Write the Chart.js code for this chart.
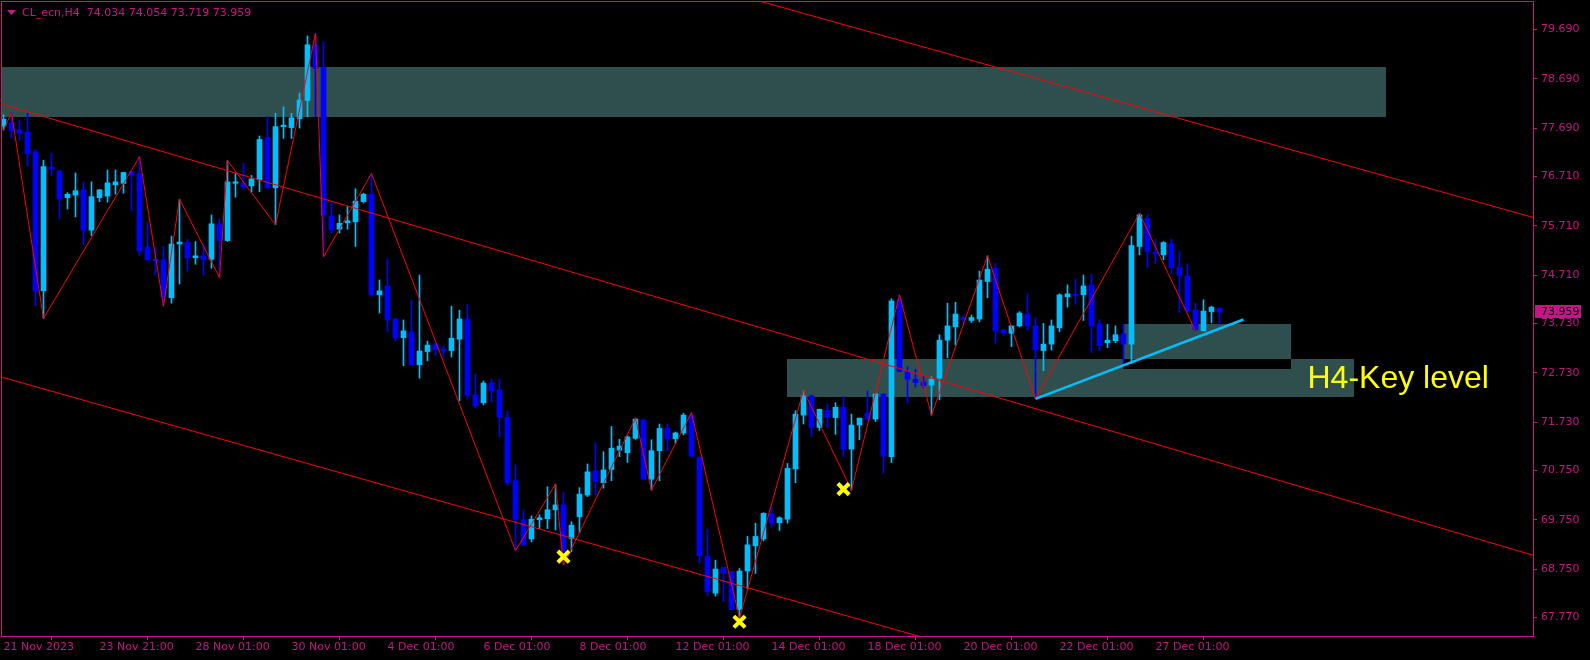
<!DOCTYPE html>
<html>
<head>
<meta charset="utf-8">
<script src="https://cdn.jsdelivr.net/npm/chart.js@4.4.1/dist/chart.umd.min.js"></script>
<style>
html, body { margin: 0; padding: 0; background: #000; }
canvas { display: block; }
</style>
</head>
<body>
<canvas id="chart" width="1590" height="660"></canvas>
<script>
// --- data ---
var symbolName = 'CL_ecn,H4';

var opens = [77.73,77.80,77.66,77.61,77.21,74.39,76.90,76.82,76.28,76.33,76.44,75.62,76.28,76.31,76.54,76.57,76.81,76.77,75.28,75.03,
  75.02,74.25,75.34,75.37,75.06,75.10,75.03,75.75,75.41,76.57,76.57,76.52,76.64,77.50,76.48,77.72,77.70,77.88,78.25,79.38,
  78.92,75.91,75.64,75.77,75.79,76.20,76.35,74.31,74.49,73.82,73.44,73.56,72.89,73.16,73.32,73.21,73.18,73.41,73.82,72.28,
  72.12,72.52,72.38,71.83,70.54,69.75,69.36,69.75,69.77,69.95,70.05,69.37,69.81,70.25,70.74,70.50,70.77,71.16,71.11,71.40,
  71.77,70.57,71.15,71.60,71.39,71.51,71.87,71.02,69.01,68.26,68.78,68.70,67.93,68.71,69.22,69.36,69.87,69.69,69.76,70.78,
  71.87,72.26,71.62,71.97,71.82,72.03,71.18,71.67,71.91,71.79,72.30,71.03,74.21,72.75,72.60,72.54,72.48,72.62,73.39,73.66,
  73.85,73.79,73.82,74.58,74.85,73.60,73.53,73.68,73.92,73.68,73.18,73.31,73.64,74.27,74.32,74.31,74.51,73.72,73.34,73.38,
  73.52,73.31,75.29,75.86,75.17,75.12,75.35,74.87,74.69,74.00,73.58,73.97,74.034];
var highs = [77.96,78.00,77.85,77.99,77.25,77.04,77.18,76.84,76.38,76.78,76.60,76.60,76.44,76.84,76.84,76.79,76.81,77.12,75.77,75.29,
  75.29,75.50,76.25,75.44,75.39,75.35,75.93,75.85,77.03,76.77,76.98,76.73,77.53,77.92,77.99,78.12,77.99,78.40,79.56,79.61,
  79.44,76.20,75.93,76.10,76.46,76.37,76.77,74.61,75.04,73.83,73.80,74.20,74.71,73.37,73.32,73.27,74.08,74.00,74.12,72.70,
  72.56,72.60,72.60,71.95,70.86,69.95,69.83,69.85,70.42,70.47,70.30,69.71,70.40,70.88,71.31,71.13,71.64,71.38,71.45,71.81,
  71.79,71.37,71.69,71.69,71.53,71.91,71.92,71.02,69.56,68.93,68.78,68.70,68.76,69.41,69.68,69.89,70.00,69.81,70.89,71.96,
  72.37,72.28,71.99,72.10,72.12,72.24,71.89,71.81,72.36,72.30,72.30,74.23,74.31,72.85,72.80,72.65,72.65,73.50,74.14,74.16,
  73.90,73.90,74.79,75.10,74.95,73.60,73.68,73.97,74.33,73.85,73.73,73.80,74.33,74.51,74.63,74.71,74.73,73.81,73.71,73.68,
  73.72,75.50,75.96,75.93,75.44,75.39,75.44,75.20,74.94,74.14,74.21,74.08,74.054];
var lows = [77.65,77.49,77.45,76.93,74.09,73.83,76.73,75.85,76.05,75.89,75.32,75.51,76.20,76.19,76.35,76.37,76.01,75.11,75.00,74.71,
  74.08,74.14,74.53,74.79,74.93,74.71,74.85,74.66,75.39,76.29,76.44,76.39,76.40,76.46,75.73,77.48,77.48,77.69,77.92,77.92,
  75.08,75.56,75.56,75.64,75.29,76.17,74.28,73.94,73.56,73.37,72.87,72.89,72.62,72.97,73.08,73.05,73.05,72.16,72.20,72.02,
  72.08,72.14,71.43,70.45,69.12,69.22,69.30,69.57,69.57,69.54,68.83,69.10,69.48,70.22,70.25,70.39,70.54,71.03,70.91,71.38,
  70.56,70.35,70.54,71.15,71.30,71.47,71.03,68.87,68.20,68.20,68.09,67.92,67.75,68.34,68.66,69.32,69.60,69.53,69.68,70.50,
  71.69,71.43,71.56,71.62,71.48,71.03,70.35,71.37,71.77,71.74,70.69,70.91,72.75,72.12,72.44,72.42,71.87,72.18,73.03,73.29,
  73.70,73.75,73.76,74.25,73.33,73.48,73.26,73.66,73.60,72.20,72.77,73.19,73.56,74.06,74.12,73.79,73.14,73.18,73.24,73.34,
  72.91,72.92,75.12,74.86,74.94,75.02,74.73,73.95,73.95,73.58,73.58,73.74,73.719];
var closes = [77.87,77.64,77.59,77.17,74.39,76.91,76.86,76.25,76.35,76.42,75.62,76.30,76.44,76.58,76.60,76.79,76.74,75.20,75.02,75.00,
  74.27,75.34,75.38,75.06,75.10,75.02,75.75,75.41,76.60,76.60,76.50,76.66,77.46,76.48,77.72,77.75,77.90,78.26,79.38,78.90,
  75.93,75.62,75.76,75.81,76.21,76.35,74.31,74.39,73.80,73.44,73.58,72.89,73.17,73.29,73.20,73.17,73.43,73.82,72.28,72.06,
  72.52,72.36,71.83,70.50,69.75,69.24,69.76,69.79,69.95,70.05,69.10,69.64,70.27,70.72,70.52,70.76,71.20,71.24,71.43,71.79,
  70.57,71.15,71.60,71.39,71.51,71.87,71.04,69.02,68.29,68.75,68.66,67.93,68.71,69.24,69.41,69.88,69.68,69.79,70.79,71.89,
  72.26,71.62,71.99,71.83,72.03,71.18,71.67,71.81,71.79,72.30,71.04,74.19,72.75,72.60,72.53,72.47,72.60,73.39,73.68,73.92,
  73.81,73.85,74.61,74.83,73.58,73.54,73.68,73.94,73.68,73.20,73.31,73.68,74.31,74.33,74.30,74.49,73.68,73.28,73.39,73.50,
  73.31,75.31,75.93,75.19,75.14,75.37,74.86,74.70,73.99,73.61,73.98,74.06,73.959];

// zigzag swing points (bar index, price)
var zigzagIdx = [0,1,5,17,20,22,27,28,34,39,40,46,64,69,70,79,81,86,92,100,106,112,116,123,129,142,149];
var zigzagPrice = [77.65,78.00,73.83,77.11,74.08,76.25,74.66,77.03,75.73,79.61,75.08,76.77,69.12,70.47,68.83,71.81,70.35,71.92,67.75,72.37,70.35,74.31,71.87,75.10,72.20,75.96,73.58];

// red trend lines: [startIdx, startPrice, endIdx, endPrice]
var trendTop = [90, 80.47, 191.2, 75.88];
var trendMid = [-0.1, 78.17, 191.2, 69.03];
var trendLow = [-0.19, 72.64, 191.2, 63.87];
// light blue support line
var supportLine = [129, 72.20, 155, 73.81];

// yellow cross marks
var markIdx = [70, 92, 105];
var markPrice = [69.00, 67.68, 70.37];

// supply / demand zones
var zoneStart = [-0.19, 98, 140];
var zoneEnd = [172.8, 168.8, 160.9];
var zoneHigh = [78.93, 73.01, 73.72];
var zoneLow = [77.92, 72.24, 72.81];
var zoneText = 'H4-Key level';
var zoneTextIdx = 163;
var zoneTextPrice = 72.415;

var priceTicks = [79.690, 78.690, 77.690, 76.710, 75.710, 74.710, 73.730, 72.730, 71.730, 70.750, 69.750, 68.750, 67.770];
var timeTickIdx = [0, 12, 24, 36, 48, 60, 72, 84, 96, 108, 120, 132, 144];
var timeLabels = ['21 Nov 2023', '23 Nov 21:00', '28 Nov 01:00', '30 Nov 01:00', '4 Dec 01:00', '6 Dec 01:00',
  '8 Dec 01:00', '12 Dec 01:00', '14 Dec 01:00', '18 Dec 01:00', '20 Dec 01:00', '22 Dec 01:00', '27 Dec 01:00'];

// --- styles ---
var axisColor = '#C71585';
var bullColor = '#00BFFF';
var bearColor = '#0000FF';
var zoneColor = '#2F4F4F';
var axisFont = { family: 'DejaVu Sans', size: 11 };

var last = opens.length - 1;
var bodies = opens.map((o, i) => ({ x: i, y: [o, closes[i]] }));
var wicks = opens.map((o, i) => ({ x: i, y: [lows[i], highs[i]] }));
var candleColor = c => (c.dataIndex === undefined || closes[c.dataIndex] >= opens[c.dataIndex]) ? bullColor : bearColor;
var seg = t => [{ x: t[0], y: t[1] }, { x: t[2], y: t[3] }];

var overlay = {
  id: 'overlay',
  beforeDatasetsDraw(chart) {
    var ctx = chart.ctx, a = chart.chartArea, x = chart.scales.x, y = chart.scales.y;
    ctx.save();
    ctx.beginPath();
    ctx.rect(a.left, a.top, a.right - a.left, a.bottom - a.top);
    ctx.clip();
    var rects = zoneStart.map((s, i) => ({
      l: Math.round(x.getPixelForValue(Math.max(s, x.min))), r: Math.round(x.getPixelForValue(zoneEnd[i])),
      t: Math.round(y.getPixelForValue(zoneHigh[i])), b: Math.round(y.getPixelForValue(zoneLow[i]))
    }));
    ctx.fillStyle = zoneColor;
    rects.forEach(r => ctx.fillRect(r.l, r.t, r.r - r.l, r.b - r.t));
    // overlapping zones cancel out like in the terminal
    ctx.fillStyle = '#000';
    for (var i = 0; i < rects.length; i++) {
      for (var j = i + 1; j < rects.length; j++) {
        var l = Math.max(rects[i].l, rects[j].l), r = Math.min(rects[i].r, rects[j].r);
        var t = Math.max(rects[i].t, rects[j].t), b = Math.min(rects[i].b, rects[j].b);
        if (r > l && b > t) ctx.fillRect(l, t, r - l, b - t);
      }
    }
    ctx.restore();
  },
  afterDatasetsDraw(chart) {
    var ctx = chart.ctx, x = chart.scales.x, y = chart.scales.y;
    ctx.save();
    ctx.fillStyle = '#FFFF00';
    ctx.font = '32px "Liberation Sans", Arial, sans-serif';
    ctx.textBaseline = 'alphabetic';
    ctx.fillText(zoneText, x.getPixelForValue(zoneTextIdx), y.getPixelForValue(zoneTextPrice));
    ctx.restore();
  },
  afterDraw(chart) {
    var ctx = chart.ctx, a = chart.chartArea, y = chart.scales.y;
    ctx.save();
    ctx.strokeStyle = axisColor;
    ctx.lineWidth = 1;
    ctx.strokeRect(a.left - 0.5, a.top - 0.5, a.right - a.left + 1, a.bottom - a.top + 1);
    // header
    ctx.fillStyle = axisColor;
    ctx.beginPath();
    ctx.moveTo(7, 10); ctx.lineTo(16, 10); ctx.lineTo(11.5, 15); ctx.closePath();
    ctx.fill();
    ctx.font = '11px "DejaVu Sans"';
    ctx.textBaseline = 'middle';
    var ohlc = [opens[last], highs[last], lows[last], closes[last]].map(v => v.toFixed(3)).join(' ');
    ctx.fillText(symbolName + '  ' + ohlc, 22, 13.5);
    // last price box
    var py = Math.round(y.getPixelForValue(closes[last]));
    ctx.fillRect(a.right + 2, py - 7, 46, 13);
    ctx.fillStyle = '#000';
    ctx.fillText(closes[last].toFixed(3), a.right + 8, py);
    ctx.restore();
  }
};

new Chart(document.getElementById('chart'), {
  type: 'bar',
  data: {
    datasets: [
      { type: 'line', data: markIdx.map((v, i) => ({ x: v, y: markPrice[i] })), showLine: false,
        pointStyle: 'crossRot', pointRadius: 8, pointBorderWidth: 4, pointBorderColor: '#FFFF00', pointBackgroundColor: '#FFFF00' },
      { type: 'line', data: seg(supportLine), borderColor: bullColor, borderWidth: 2.5, pointRadius: 0 },
      { type: 'line', data: seg(trendTop), borderColor: '#FF0000', borderWidth: 1, pointRadius: 0 },
      { type: 'line', data: seg(trendMid), borderColor: '#FF0000', borderWidth: 1, pointRadius: 0 },
      { type: 'line', data: seg(trendLow), borderColor: '#FF0000', borderWidth: 1, pointRadius: 0 },
      { type: 'line', data: zigzagIdx.map((v, i) => ({ x: v, y: zigzagPrice[i] })), borderColor: '#FF0000', borderWidth: 1, pointRadius: 0 },
      { data: bodies, backgroundColor: candleColor, barThickness: 5, minBarLength: 1, grouped: false },
      { data: wicks, backgroundColor: candleColor, barThickness: 1, grouped: false }
    ]
  },
  options: {
    responsive: false,
    animation: false,
    events: [],
    layout: { autoPadding: false, padding: { left: 2, top: 2, right: 0, bottom: 0 } },
    plugins: { legend: { display: false }, tooltip: { enabled: false } },
    scales: {
      x: {
        type: 'linear', min: -0.1875, max: 191.19, offset: false,
        afterFit: s => { s.height = 24; s.paddingLeft = 0; s.paddingRight = 0; },
        afterBuildTicks: s => { s.ticks = timeTickIdx.map(v => ({ value: v })); },
        grid: { drawOnChartArea: false, drawTicks: true, tickLength: 4, color: axisColor },
        border: { display: true, color: axisColor },
        ticks: { color: axisColor, font: axisFont, align: 'start', padding: 1, autoSkip: false, maxRotation: 0,
          callback: (v, i) => timeLabels[i] }
      },
      y: {
        position: 'right', min: 67.392, max: 80.247,
        afterFit: s => { s.width = 57; s.paddingTop = 0; s.paddingBottom = 0; },
        afterBuildTicks: s => { s.ticks = priceTicks.map(v => ({ value: v })); },
        grid: { drawOnChartArea: false, drawTicks: true, tickLength: 4, color: axisColor },
        border: { display: true, color: axisColor },
        ticks: { color: axisColor, font: axisFont, padding: 4, callback: v => v.toFixed(3) }
      }
    }
  },
  plugins: [overlay]
});
</script>
</body>
</html>
